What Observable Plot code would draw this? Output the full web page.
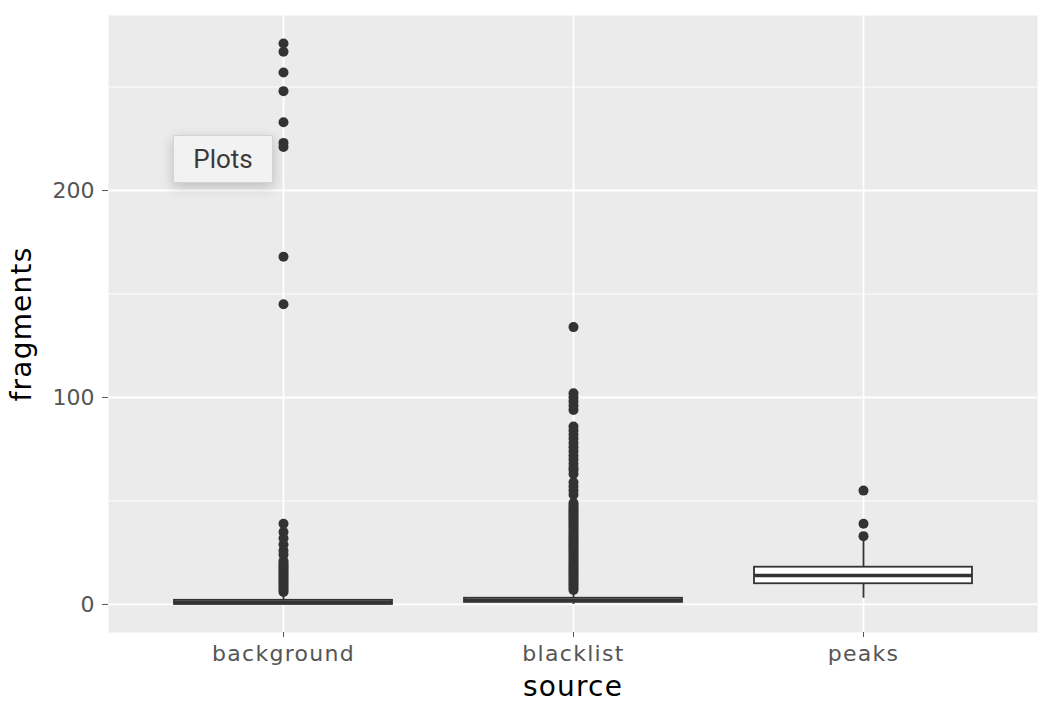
<!DOCTYPE html>
<html><head><meta charset="utf-8">
<script src="https://cdn.jsdelivr.net/npm/d3@7"></script>
<script src="https://cdn.jsdelivr.net/npm/@observablehq/plot@0.6"></script>
<style>
body{margin:0;background:#fff;}
#wrap{position:relative;width:1042px;height:702px;}
#tip{position:absolute;left:173px;top:135px;width:100px;height:48px;box-sizing:border-box;background:#f2f2f2;border:1px solid #d4d4d4;box-shadow:0 4px 12px rgba(0,0,0,0.2);font-family:Roboto, "Open Sans", sans-serif;font-size:26px;color:#3a3a3a;display:flex;align-items:center;justify-content:center;}
</style></head><body><div id="wrap"><div id="tip">Plots</div></div>
<script>
const categories = ["background", "blacklist", "peaks"];
const q1 = [0, 1, 10];
const median = [1, 2, 14];
const q3 = [2, 3, 18];
const whiskerLow = [0, 0, 3];
const whiskerHigh = [5, 6, 31];
const backgroundOutliers = [6,7,8,9,10,11,12,13,14,15,16,17,18,19,20,21,24,26,29,32,35,39,145,168,221,223,233,248,257,267,271];
const blacklistOutliers = [7,8,9,10,11,12,13,14,15,16,17,18,19,20,21,22,23,24,25,26,27,28,29,30,31,32,33,34,35,36,37,38,39,40,41,42,43,44,45,46,47,48,49,53,55,57,59,63,65,66,68,70,72,74,76,78,80,82,84,86,94,96,98,100,102,134];
const peaksOutliers = [33, 39, 55];
const yMajorTicks = [0, 100, 200];
const yMinorTicks = [50, 150, 250];

const boxes = categories.map((c, i) => ({source: c, q1: q1[i], median: median[i], q3: q3[i], lo: whiskerLow[i], hi: whiskerHigh[i]}));
const outlierSets = [backgroundOutliers, blacklistOutliers, peaksOutliers];
const points = categories.flatMap((c, i) => outlierSets[i].map(v => ({source: c, fragments: v})));

const chart = Plot.plot({
  width: 1042, height: 702,
  marginLeft: 108, marginRight: 5, marginTop: 15, marginBottom: 70,
  style: {fontFamily: "DejaVu Sans", background: "white"},
  x: {type: "band", domain: categories, paddingInner: 0.25, paddingOuter: 0.225, label: null},
  y: {domain: [-13.55, 284.55], label: null},
  marks: [
    Plot.frame({fill: "#ebebeb", stroke: null}),
    Plot.ruleY(yMinorTicks, {stroke: "white", strokeWidth: 0.9}),
    Plot.ruleY(yMajorTicks, {stroke: "white", strokeWidth: 1.8}),
    Plot.ruleX(categories, {stroke: "white", strokeWidth: 1.8}),
    Plot.ruleX(boxes, {x: "source", y1: "lo", y2: "q1", stroke: "#333", strokeWidth: 1.8}),
    Plot.ruleX(boxes, {x: "source", y1: "q3", y2: "hi", stroke: "#333", strokeWidth: 1.8}),
    Plot.barY(boxes, {x: "source", y1: "q1", y2: "q3", fill: "white", stroke: "#333", strokeWidth: 1.8}),
    Plot.tickY(boxes, {x: "source", y: "median", stroke: "#333", strokeWidth: 3.6}),
    Plot.dot(points, {x: "source", y: "fragments", r: 5, fill: "#333", stroke: null}),
    Plot.axisY(yMajorTicks, {tickSize: 6, tickPadding: 8, fontSize: 22, color: "#555", label: null}),
    Plot.axisX({tickSize: 5, tickPadding: 8, fontSize: 22, color: "#555", label: null}),
    Plot.text(["fragments"], {frameAnchor: "left", dx: -86, rotate: -90, fontSize: 28, fill: "black", textAnchor: "middle", lineAnchor: "middle"}),
    Plot.text(["source"], {frameAnchor: "bottom", dy: 55, fontSize: 28, fill: "black", textAnchor: "middle", lineAnchor: "middle"})
  ]
});
d3.select(chart).selectAll('g[aria-label="x-axis tick label"] text').style("letter-spacing", "1.3px");
d3.select(chart).selectAll('g[aria-label="text"] text').style("letter-spacing", "1.2px");
document.getElementById("wrap").prepend(chart);
</script>
</body></html>
